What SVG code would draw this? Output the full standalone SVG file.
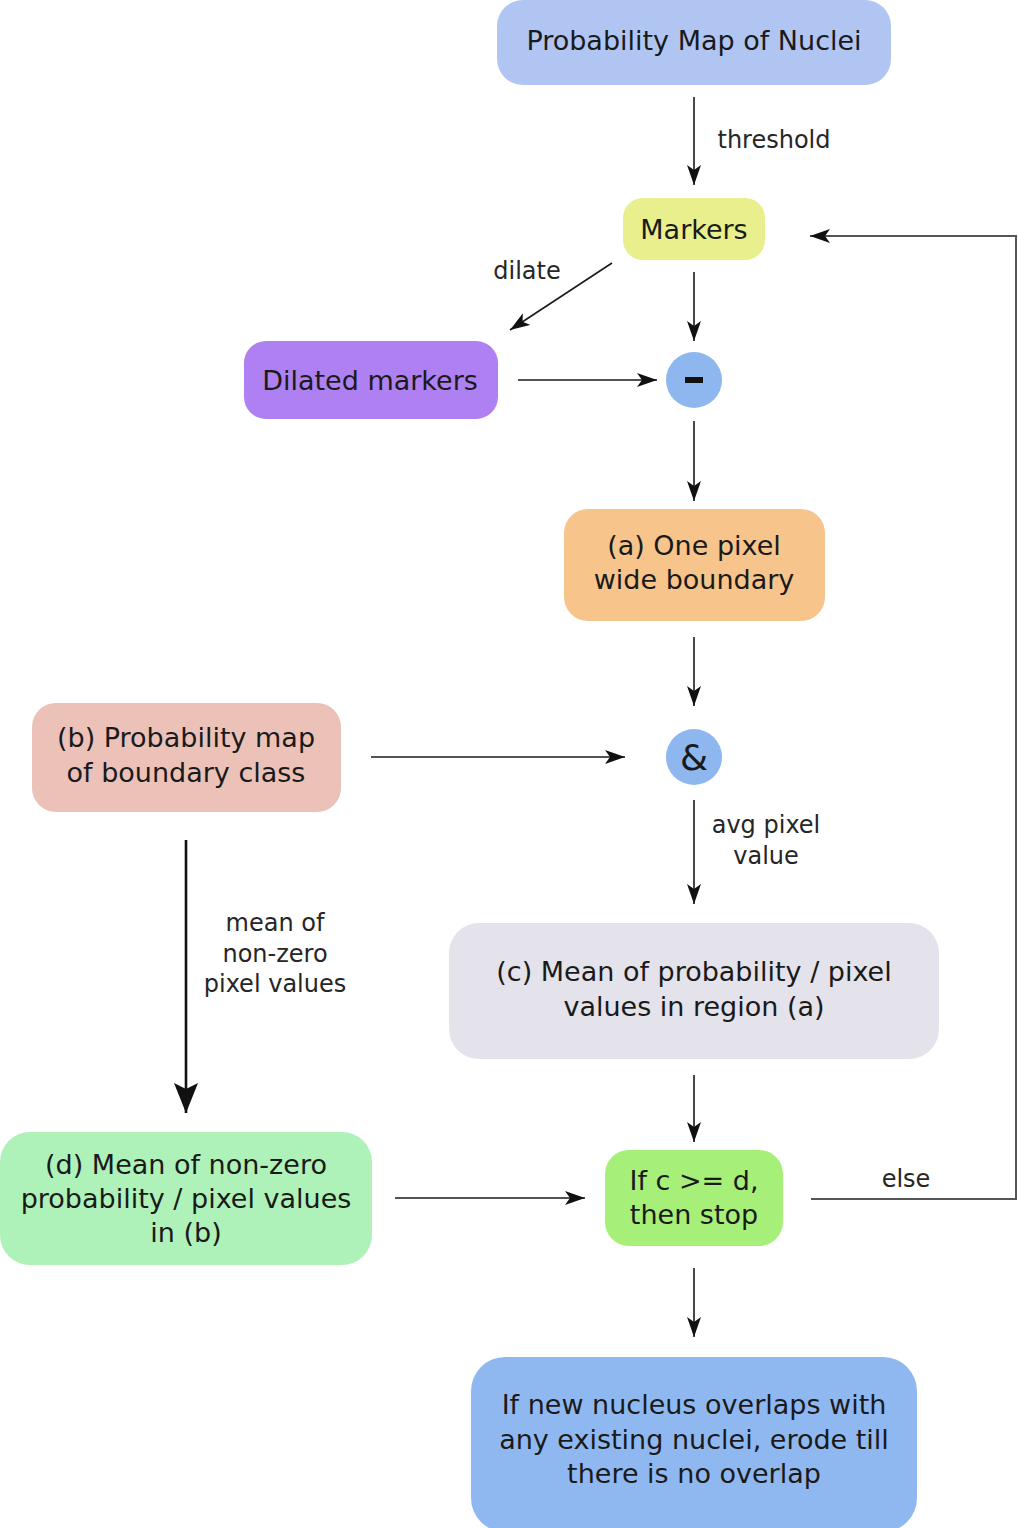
<svg xmlns="http://www.w3.org/2000/svg" width="1018" height="1528" viewBox="0 0 1018 1528">
<style>
.nt{font-family:"DejaVu Sans",sans-serif;font-size:27px;fill:#1a1a1a;text-anchor:middle}
.lb{font-family:"DejaVu Sans",sans-serif;font-size:24px;fill:#262626;text-anchor:middle}
.c{stroke:#1a1a1a;stroke-width:1.6;fill:none}
</style>
<defs>
<marker id="ah" markerUnits="userSpaceOnUse" markerWidth="22" markerHeight="16" refX="20" refY="7" orient="auto">
<path d="M0,0 L20,7 L0,14 L5,7 z" fill="#111"/>
</marker>
<marker id="ahb" markerUnits="userSpaceOnUse" markerWidth="30" markerHeight="26" refX="30" refY="12" orient="auto">
<path d="M0,0 L30,12 L0,24 L6,12 z" fill="#111"/>
</marker>
</defs>
<g id="connectors">
<line class="c" x1="694" y1="97" x2="694" y2="185" marker-end="url(#ah)"/>
<text class="lb" x="774" y="148">threshold</text>
<line class="c" x1="612" y1="263" x2="510" y2="330" marker-end="url(#ah)"/>
<text class="lb" x="527" y="279">dilate</text>
<line class="c" x1="694" y1="272" x2="694" y2="341" marker-end="url(#ah)"/>
<line class="c" x1="518" y1="380" x2="657" y2="380" marker-end="url(#ah)"/>
<line class="c" x1="694" y1="421" x2="694" y2="501" marker-end="url(#ah)"/>
<line class="c" x1="694" y1="637" x2="694" y2="706" marker-end="url(#ah)"/>
<line class="c" x1="371" y1="757" x2="625" y2="757" marker-end="url(#ah)"/>
<line class="c" x1="694" y1="800" x2="694" y2="904" marker-end="url(#ah)"/>
<text class="lb" x="766" y="833">avg pixel</text>
<text class="lb" x="766" y="864">value</text>
<line x1="186" y1="840" x2="186" y2="1113" stroke="#111" stroke-width="2.6" marker-end="url(#ahb)"/>
<text class="lb" x="275" y="931">mean of</text>
<text class="lb" x="275" y="962">non-zero</text>
<text class="lb" x="275" y="992">pixel values</text>
<line class="c" x1="694" y1="1075" x2="694" y2="1142" marker-end="url(#ah)"/>
<line class="c" x1="395" y1="1198" x2="585" y2="1198" marker-end="url(#ah)"/>
<line class="c" x1="694" y1="1268" x2="694" y2="1337" marker-end="url(#ah)"/>
<polyline points="811,1199 1016,1199 1016,236 810,236" fill="none" stroke="#555" stroke-width="2" marker-end="url(#ah)"/>
<text class="lb" x="906" y="1187">else</text>
</g>
<g id="n-probmap">
<rect x="497" y="0" width="394" height="85" rx="26" fill="#b1c5f3"/>
<text class="nt" x="694" y="50">Probability Map of Nuclei</text>
</g>
<g id="n-markers">
<rect x="623" y="198" width="142" height="62" rx="20" fill="#e8ef8c"/>
<text class="nt" x="694" y="239">Markers</text>
</g>
<g id="n-dilated">
<rect x="244" y="341" width="254" height="78" rx="22" fill="#ae80f1"/>
<text class="nt" x="370" y="390">Dilated markers</text>
</g>
<g id="n-minus">
<circle cx="694" cy="380" r="28" fill="#8eb7f0"/>
<rect x="685" y="377" width="18" height="6" fill="#111"/>
</g>
<g id="n-a">
<rect x="564" y="509" width="261" height="112" rx="24" fill="#f7c48c"/>
<text class="nt" x="694" y="555">(a) One pixel</text>
<text class="nt" x="694" y="589">wide boundary</text>
</g>
<g id="n-b">
<rect x="32" y="703" width="309" height="109" rx="24" fill="#ebc1b8"/>
<text class="nt" x="186" y="747">(b) Probability map</text>
<text class="nt" x="186" y="782">of boundary class</text>
</g>
<g id="n-and">
<circle cx="694" cy="757" r="28" fill="#8eb7f0"/>
<text class="nt" x="694" y="770" font-size="36" style="font-size:36px">&amp;</text>
</g>
<g id="n-c">
<rect x="449" y="923" width="490" height="136" rx="30" fill="#e4e2ea"/>
<text class="nt" x="694" y="981">(c) Mean of probability / pixel</text>
<text class="nt" x="694" y="1016">values in region (a)</text>
</g>
<g id="n-d">
<rect x="0" y="1132" width="372" height="133" rx="30" fill="#aef2b9"/>
<text class="nt" x="186" y="1174">(d) Mean of non-zero</text>
<text class="nt" x="186" y="1208">probability / pixel values</text>
<text class="nt" x="186" y="1242">in (b)</text>
</g>
<g id="n-if">
<rect x="605" y="1150" width="178" height="96" rx="24" fill="#a6ef79"/>
<text class="nt" x="694" y="1190">If c &gt;= d,</text>
<text class="nt" x="694" y="1224">then stop</text>
</g>
<g id="n-bottom">
<rect x="471" y="1357" width="446" height="175" rx="34" fill="#90b8f0"/>
<text class="nt" x="694" y="1414">If new nucleus overlaps with</text>
<text class="nt" x="694" y="1449">any existing nuclei, erode till</text>
<text class="nt" x="694" y="1483">there is no overlap</text>
</g>
</svg>
